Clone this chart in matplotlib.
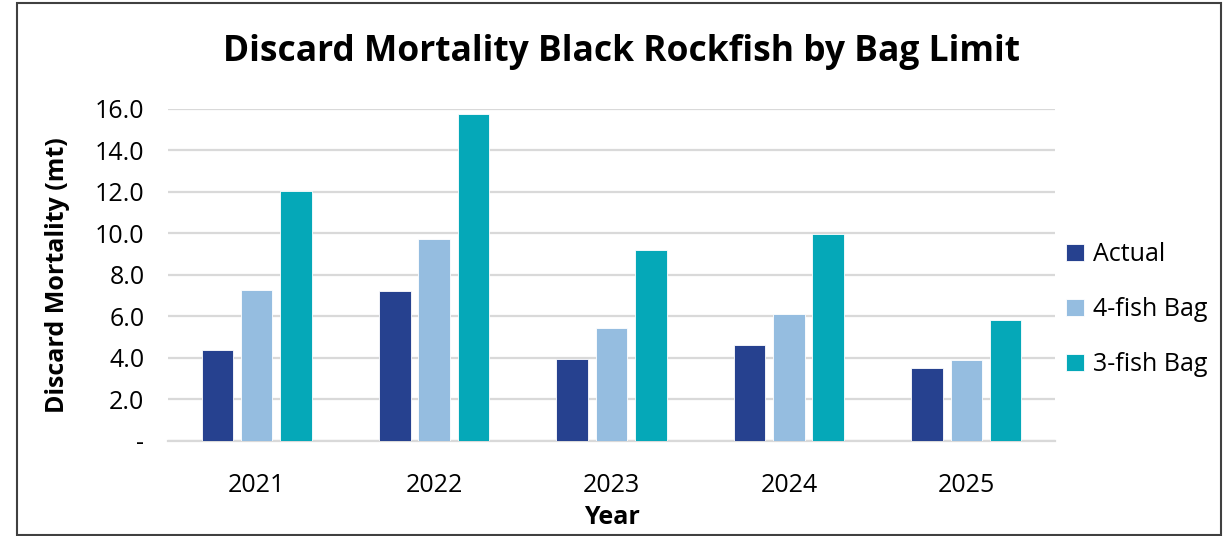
import numpy as np
import matplotlib
matplotlib.use('Agg')
import matplotlib.pyplot as plt
from matplotlib.patches import Rectangle

plt.rcParams['font.family'] = ['Open Sans', 'DejaVu Sans']

# Dados
anos = ['2021', '2022', '2023', '2024', '2025']
actual = [4.37, 7.21, 3.95, 4.59, 3.50]
bag_4 = [7.24, 9.73, 5.43, 6.12, 3.89]
bag_3 = [12.05, 15.73, 9.20, 9.94, 5.82]
series_nomes = ['Actual', '4-fish Bag', '3-fish Bag']
cores = ['#26418F', '#95BDE0', '#05A8B8']
yticks = [0, 2, 4, 6, 8, 10, 12, 14, 16]
ytick_labels = ['-', '2.0', '4.0', '6.0', '8.0', '10.0', '12.0', '14.0', '16.0']

fig = plt.figure(figsize=(12.24, 5.36), dpi=100)
ax = fig.add_axes([168 / 1224, 95.3 / 536, 887 / 1224, 332 / 536])

x = np.arange(len(anos))
largura = 0.178
passo = 0.222
for i, (vals, nome, cor) in enumerate(zip([actual, bag_4, bag_3], series_nomes, cores)):
    ax.bar(x + (i - 1) * passo, vals, width=largura, color=cor, label=nome,
           edgecolor='white', linewidth=0.6, zorder=3)

ax.set_xlim(-0.5, len(anos) - 0.5)
ax.set_ylim(0, 16)
ax.set_yticks(yticks)
ax.set_yticklabels(ytick_labels)
ax.set_xticks(x)
ax.set_xticklabels(anos)
ax.tick_params(axis='both', length=0, labelsize=18)
ax.tick_params(axis='x', pad=23)
ax.tick_params(axis='y', pad=17)
ax.grid(axis='y', color='#d9d9d9', linewidth=1.6, zorder=0)
for s in ['top', 'right', 'left']:
    ax.spines[s].set_visible(False)
ax.spines['bottom'].set_color('#d9d9d9')
ax.spines['bottom'].set_linewidth(1.6)

ax.set_xlabel('Year', fontsize=18, fontweight='bold', labelpad=5)
ax.set_ylabel('Discard Mortality (mt)', fontsize=18, fontweight='bold', labelpad=18)
fig.text(0.508, 0.903, 'Discard Mortality Black Rockfish by Bag Limit',
         ha='center', va='center', fontsize=25.5, fontweight='bold')

leg = ax.legend(loc='center left', bbox_to_anchor=(0.993, 0.395), frameon=False,
                fontsize=18, handlelength=0.7, handleheight=0.7,
                handletextpad=0.35, labelspacing=1.2, borderaxespad=0.3)

# moldura da figura
fig.patches.append(Rectangle((17 / 1224, 1 / 536), 1204 / 1224, 532 / 536,
                             transform=fig.transFigure, fill=False,
                             edgecolor='#404040', linewidth=1.5))

fig.savefig('out.png', dpi=100)
